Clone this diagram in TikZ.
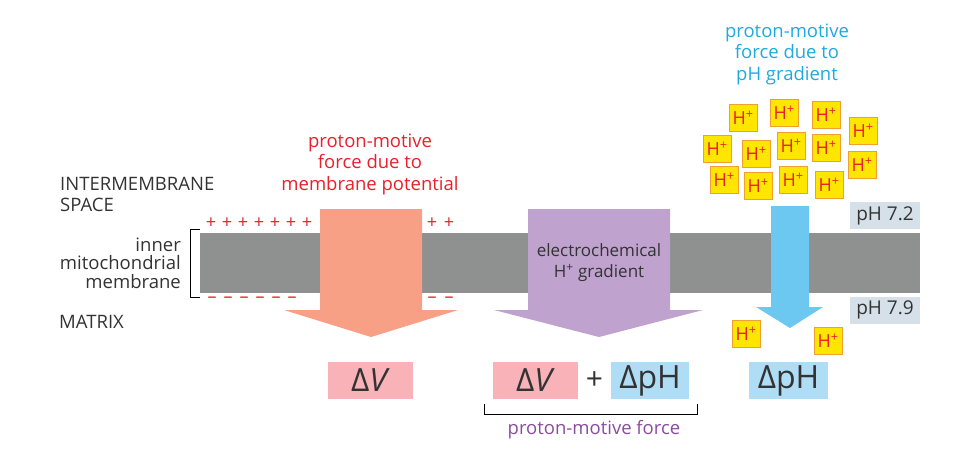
\documentclass[tikz,border=0pt]{standalone}
\usepackage{fontspec}
\setmainfont{Open Sans}
\usetikzlibrary{calc}
\definecolor{membgray}{HTML}{8E9190}
\definecolor{vorange}{HTML}{F7A086}
\definecolor{epurple}{HTML}{BFA2CE}
\definecolor{phblue}{HTML}{6CC8F0}
\definecolor{vpink}{HTML}{F9B3B8}
\definecolor{phlight}{HTML}{AEDDF5}
\definecolor{phgray}{HTML}{D5E0E8}
\definecolor{pmred}{HTML}{E8202A}
\definecolor{pmblue}{HTML}{1FA9E1}
\definecolor{pmpurple}{HTML}{8B4C9E}
\definecolor{hyellow}{HTML}{FFE600}
\definecolor{hborder}{HTML}{F0A030}
\definecolor{darktext}{HTML}{333333}
\tikzset{
  hion/.style={draw=hborder, fill=hyellow, line width=0.8pt, minimum width=28pt,
    minimum height=27pt, inner sep=0pt, text=pmred, font=\fontsize{18}{18}\selectfont},
  deltabox/.style={minimum height=37pt, inner sep=0pt, text=darktext,
    font=\fontsize{32}{32}\selectfont},
  phlabel/.style={fill=phgray, minimum width=70pt, minimum height=27pt, inner sep=0pt,
    text=darktext, font=\fontsize{19}{19}\selectfont},
  lbl/.style={font=\fontsize{18.5}{21.5}\selectfont, align=center, inner sep=0pt},
  charge/.style={text=pmred, inner sep=0pt, font=\fontsize{18}{18}\selectfont}
}
\begin{document}
\begin{tikzpicture}[x=1pt,y=-1pt]
\useasboundingbox (0,0) rectangle (968,459);

% membrane
\fill[membgray] (200,233) rectangle (920,293);
\draw[line width=0.8pt] (200,229) -- (190,229) -- (190,297) -- (200,297);

% charges
\foreach \x in {211,227,243,259,275,291,307,432,449}
\node[charge] at (\x,223) {+};
\foreach \x in {212,228,244,260,276,292,432,449}
\node[charge] at (\x,300) {–};

% arrows
\fill[vorange] (320,209) -- (422,209) -- (422,310) -- (458,310) -- (371,337)
  -- (284,310) -- (320,310) -- cycle;
\fill[epurple] (528,209) -- (670,209) -- (670,310) -- (703,310) -- (599,337)
  -- (494,310) -- (528,310) -- cycle;
\fill[phblue] (771,206) -- (809,206) -- (809,307) -- (823,307) -- (790,328)
  -- (756,307) -- (771,307) -- cycle;

% labels
\node[lbl, anchor=north west, align=left, text=darktext] (ims) at (60,177)
  {INTERMEMBRANE\\SPACE};
\node[lbl, anchor=east, align=right, text=darktext, font=\fontsize{18.5}{18.5}\selectfont]
  (imm) at (181,263) {inner\\mitochondrial\\membrane};
\node[lbl, anchor=west, text=darktext] (matrix) at (59,322) {MATRIX};
\node[lbl, text=pmred] (pmv) at (370,164) {proton-motive\\force due to\\membrane potential};
\node[lbl, text=pmblue] (pmph) at (787,54) {proton-motive\\force due to\\pH gradient};
\node[lbl, text=darktext, font=\fontsize{17}{21}\selectfont] (ech) at (599,263)
  {electrochemical\\H\textsuperscript{+} gradient};

\node[phlabel] (ph72) at (885,215.5) {pH 7.2};
\node[phlabel] (ph79) at (885,310) {pH 7.9};

% H+ ions
\foreach \x/\y in {743/118, 784/113, 826/115, 863/131, 717/149, 756/154, 791/146,
  826/148, 862/165, 724/180, 758/186, 793/180, 829/185, 746/334, 828/341}
\node[hion] at (\x,\y) {H\textsuperscript{+}};

% results
\node[deltabox, fill=vpink, minimum width=85pt] (dv1) at (370.5,380.5) {Δ\textit{V}};
\node[deltabox, fill=vpink, minimum width=85pt] (dv2) at (535.5,380.5) {Δ\textit{V}};
\node[deltabox, fill=phlight, minimum width=78pt] (dph1) at (650,380.5) {ΔpH};
\node[text=darktext, font=\fontsize{30}{30}\selectfont, inner sep=0pt] (plus)
  at ($(dv2.east)!0.5!(dph1.west)$) {+};
\node[deltabox, fill=phlight, minimum width=79pt] (dph2) at (788.5,380.5) {ΔpH};

\draw[line width=0.8pt] (484,404) -- (484,414) -- (697,414) -- (697,404);
\node[lbl, text=pmpurple] (pmf) at (594,430) {proton-motive force};
\end{tikzpicture}
\end{document}
